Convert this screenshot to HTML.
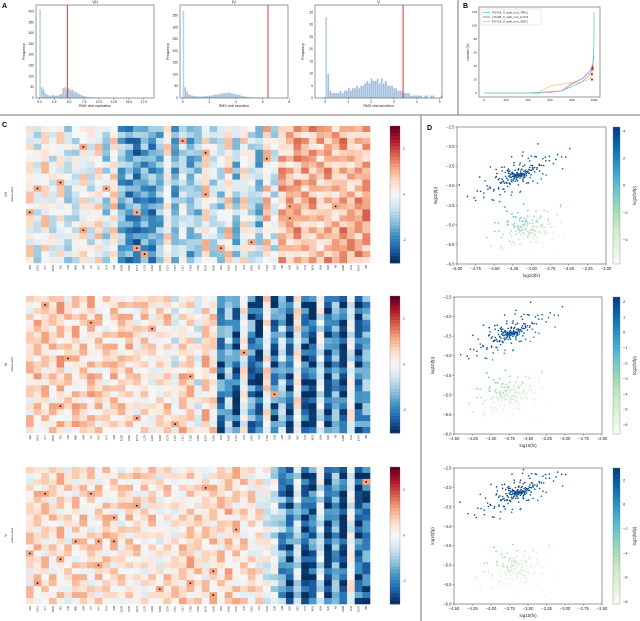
<!DOCTYPE html>
<html><head><meta charset="utf-8"><style>
body{margin:0;background:#fff;width:640px;height:621px;overflow:hidden}
svg{display:block;font-family:"Liberation Sans",sans-serif}
</style></head><body>
<svg id="fig" width="640" height="621" viewBox="0 0 640 621">
<line x1="458" y1="0" x2="458" y2="115" stroke="#777" stroke-width="1"/>
<line x1="0" y1="115" x2="640" y2="115" stroke="#777" stroke-width="1"/>
<line x1="421" y1="115" x2="421" y2="621" stroke="#777" stroke-width="1"/>
<text x="2" y="8" font-size="7" font-weight="bold">A</text>
<text x="463" y="8" font-size="7" font-weight="bold">B</text>
<text x="2" y="127" font-size="7" font-weight="bold">C</text>
<text x="427" y="130" font-size="7" font-weight="bold">D</text>
</svg>
<script>
// ---------- histogram data ----------
const hist1Counts=[410,50,40,22,15,12,10,14,12,10,12,15,20,45,50,40,45,35,40,30,28,22,18,14,10,8,6,5,4,3,3,2,2,1,1,1,1,0,1,0,0,1,0,0,0,1,0,0,0,0,0,0,0,1];
const hist2Counts=[370,45,28,15,12,10,8,8,7,6,7,8,8,9,10,10,12,14,15,16,18,20,22,20,24,22,20,18,16,14,12,10,8,7,5,4,3,3,2,2,2,1,1,1,1,1,1,0,0,1];
const hist3Counts=[33,10,3,2,2,2,2,3,2,3,3,4,3,4,4,5,4,5,5,6,7,6,8,7,7,8,6,8,6,7,5,5,5,4,4,3,3,3,2,2,2,1,1,1,1,1,1,0,1,1,0,1,1,0,0,0,1];
const histBinWidths=[0.3,0.14,0.09];
const hist1Ticks=[0,2.5,5,7.5,10,12.5,15,17.5];
const hist1TickLabels=["0.0","2.5","5.0","7.5","10.0","12.5","15.0","17.5"];
const hist2Ticks=[0,2,4,6,8];
const hist3Ticks=[0,1,2,3,4,5];
const hist1Y=[0,50,100,150,200,250,300,350,400];
const hist2Y=[0,50,100,150,200,250,300,350];
const hist3Y=[0,5,10,15,20,25,30,35];
const histThresholds=[4.7,6.4,3.4];
// ---------- panel B ----------
const bX=[0,100,200,300,400,500,530,600,700,750,800,850,900,950,970,980,990,995,1000,1000];
const bCyan=[0,0,0,0,0,1,1,2,3,6,10,13,18,25,30,33,40,60,80,120];
const bMag=[0,0,0,0,0,0,1,1,3,8,14,18,22,30,34,38,45,50,55,55];
const bYel=[0,0,0,0,0,1,4,10,13,14,15,15,17,20,22,25,30,33,36,36];
const bDots=[[980,28],[985,35],[982,20],[988,38]];
// ---------- heatmap data ----------
const hmRows=23, hmCols=45;
const texture="72915364081937462058174930625817394026158372940615837201946385710492638175049263817504926371859403627185940362718";
const hm1Mean=[0.2,-0.5,0.3,-0.3,0.1,-0.6,-0.4,0.2,-0.3,0.3,-0.8,0.4,-1.4,-1.6,-1.8,-1.5,-1.7,-1.2,0.2,-1.4,-0.5,-1.3,-1.0,0.4,-0.6,-0.8,0.5,-1.1,0.2,-0.4,-1.2,0.6,-0.5,0.9,0.8,1.0,0.9,1.0,0.8,1.0,0.9,1.1,0.9,1.0,1.1];
const hm2Mean=[0.4,0.6,0.5,0.5,0.7,0.4,0.6,0.5,0.6,0.5,0.4,0.6,0.5,0.6,0.3,0.5,0.2,0.4,0.5,-0.2,0.6,0.5,-0.3,0.6,0.4,-2.2,-1.2,-2.4,0.0,-2.0,-2.6,0.2,-2.2,-1.0,-2.5,0.1,-2.3,-2.6,-0.3,-2.4,-1.4,-2.6,-0.2,-2.3,-1.5];
const hm3Mean=[0.3,0.5,0.4,0.4,0.5,0.3,0.4,0.5,0.3,0.4,0.5,0.4,0.3,0.5,0.4,0.3,0.5,0.2,0.4,0.3,0.5,0.6,0.4,0.3,0.5,0.4,0.6,0.5,0.4,0.3,0.2,-0.2,-0.5,-1.6,-2.3,-0.8,-2.6,-2.2,-0.4,-2.6,-1.4,-2.7,-0.1,-2.4,-2.2];
const hm1Dots=[[2,20],[3,7],[4,23],[5,31],[9,4],[10,1],[10,10],[11,23],[13,34],[13,40],[14,0],[14,14],[15,34],[17,7],[19,29],[20,14],[20,25],[21,15]];
const hm2Dots=[[1,2],[4,8],[5,16],[9,28],[10,5],[13,21],[16,32],[18,4],[20,14],[21,19]];
const hm3Dots=[[2,44],[3,23],[4,2],[4,8],[6,14],[8,11],[10,27],[12,6],[12,9],[12,11],[14,0],[15,4],[16,9],[17,24],[19,1],[19,21],[20,17],[21,24]];
const colNames=["S62","V213","S77","M105","T61","Y45","M85","A94","I37","N57","D74","S38","E139","V200","R174","L178","G192","K184","S179","T197","L117","T183","V162","K176","A156","D91","A162","T147","A79","S161","V11","T104","E28","L98","N50","N67","F79","W31","K54","K20","A8","A168","R41","E147","I68"];
// ---------- scatter data ----------
const dxB=[-0.3,-0.2,-0.1,0,0.1,0.2,0.05,-0.05,0.15,-0.15,0.25,-0.25,0.3,-0.35,0.4,0.5,0.6,-0.5,-0.7,0.02,-0.08,0.12,-0.18,0.08,0.18,-0.28,0.22,0.35,0.45,-0.4,0.03,-0.12,0.07,0.14,-0.22,0.28,-0.02,0.1,0.2,-0.1,0.55,0.65,-0.6,-0.45,0.32,-0.32,0.04,-0.06,0.16,0.26];
const dyB=[-0.2,-0.15,0.05,0,0.1,0.15,-0.1,0.1,0.2,-0.05,0.1,-0.3,0.3,-0.2,0.35,0.4,0.6,-0.5,-0.4,0.15,-0.1,-0.05,0.05,0.2,-0.1,-0.1,0.3,0.15,0.45,-0.35,-0.2,0.12,0.25,0,-0.25,0.1,0.05,-0.15,0.05,0.2,0.5,0.65,-0.6,-0.15,0.4,-0.05,-0.3,0.22,-0.18,0.35];
const dxG=[-0.4,-0.3,-0.2,-0.1,0,0.1,0.2,0.3,0.4,-0.35,-0.25,-0.15,-0.05,0.05,0.15,0.25,0.35,0.45,-0.45,0.5,-0.3,-0.1,0.1,0.3,-0.2,0,0.2,-0.4,0.4,0.12,-0.12,0.22,-0.22,0.08,-0.08,0.32,-0.32,0.02,0.18,-0.18];
const dyG=[-0.4,0.1,-0.5,0.3,-0.2,0.4,-0.1,0.5,0.2,0.6,-0.3,0,0.2,-0.6,0.1,-0.3,0.3,0.5,-0.2,0.7,0.4,-0.4,0.55,-0.1,0.15,0.35,-0.45,-0.55,0.0,-0.15,0.25,0.45,-0.25,0.05,-0.35,0.15,0.3,-0.05,0.6,0.45];
const scatterCenters=[[-4.2,-3.75,-4.05,-5.1],[-3.75,-3.45,-3.75,-5.0],[-3.65,-3.15,-3.65,-5.1]];

const NS="http://www.w3.org/2000/svg";
const svg=document.getElementById('fig');
function mk(tag,attrs,parent){const e=document.createElementNS(NS,tag);for(const k in attrs)e.setAttribute(k,attrs[k]);(parent||svg).appendChild(e);return e;}
function txt(x,y,s,size,anchor,parent,rot){const e=mk('text',{x:x,y:y,'font-size':size,'text-anchor':anchor||'middle',fill:'#222'},parent);if(rot!==undefined)e.setAttribute('transform','rotate('+rot+' '+x+' '+y+')');e.textContent=s;return e;}
function lerpHex(stops,t){t=Math.max(0,Math.min(1,t));const n=stops.length-1;const i=Math.min(n-1,Math.floor(t*n));const f=t*n-i;const a=stops[i],b=stops[i+1];const c=[0,1,2].map(k=>Math.round(parseInt(a.substr(1+2*k,2),16)*(1-f)+parseInt(b.substr(1+2*k,2),16)*f));return 'rgb('+c.join(',')+')';}
const RdBu=["#053061","#2166ac","#4393c3","#92c5de","#d1e5f0","#f7f7f7","#fddbc7","#f4a582","#d6604d","#b2182b","#67001f"];
const GnBu=["#f7fcf0","#e0f3db","#ccebc5","#a8ddb5","#7bccc4","#4eb3d3","#2b8cbe","#0868ac","#084081"];

// ---------- histograms ----------
function histogram(name,title,counts,bw,box,xmin,xmax,ymax,ticks,tickLabels,yticks,thr,xlabel){
  const g=mk('g',{});  
  const [L,T,R,B]=box;
  const sx=v=>L+(v-xmin)/(xmax-xmin)*(R-L);
  const sy=v=>B-v/ymax*(B-T);
  counts.forEach((c,i)=>{const x0=i*bw;const r=mk('rect',{x:sx(x0),y:sy(c),width:Math.max(0.5,(sx(x0+bw)-sx(x0))*0.85),height:B-sy(c),fill:i==0?'#b9d2e7':'#a4c2dd'},g);});
  const ln=mk('line',{x1:sx(thr),x2:sx(thr),y1:T,y2:B,stroke:'#e5372c','stroke-width':1},g);
  mk('rect',{x:L,y:T,width:R-L,height:B-T,fill:'none',stroke:'#555','stroke-width':0.6},g);
  ticks.forEach((t,i)=>{mk('line',{x1:sx(t),x2:sx(t),y1:B,y2:B+1.5,stroke:'#333','stroke-width':0.4},g);txt(sx(t),B+5,tickLabels?tickLabels[i]:String(t),3.3,'middle',g);});
  yticks.forEach(t=>{txt(L-2,sy(t)+1,String(t),3.3,'end',g);});
  txt((L+R)/2,T-1.5,title,4.5,'middle',g);
  txt((L+R)/2,B+9,xlabel,3.5,'middle',g);
  txt(L-11,(T+B)/2,'Frequency',3.5,'middle',g,-90);
}
histogram('histogram-vii','VII',hist1Counts,histBinWidths[0],[36,5,154,98],-0.55,19.2,430,hist1Ticks,hist1TickLabels,hist1Y,histThresholds[0],'RMS viral replication');
histogram('histogram-iv','IV',hist2Counts,histBinWidths[1],[180,5,288,98],-0.2,7.9,395,hist2Ticks,null,hist2Y,histThresholds[1],'RMS viral secretion');
histogram('histogram-v','V',hist3Counts,histBinWidths[2],[315,5,442,98],-0.45,5.1,38,hist3Ticks,null,hist3Y,histThresholds[2],'RMS viral secretion');

// ---------- panel B ----------
(function(){
  const g=mk('g',{});
  const L=479,R=600,T=7,B=97;
  const sx=v=>484+v/1000*110, sy=v=>93-v/120*81;
  mk('rect',{x:L,y:T,width:R-L,height:B-T,fill:'none',stroke:'#555','stroke-width':0.6},g);
  [0,200,400,600,800,1000].forEach(t=>{txt(sx(t),B+4,String(t),3,'middle',g);});
  [0,20,40,60,80,100,120].forEach(t=>{txt(L-2,sy(t)+1,String(t),3,'end',g);});
  txt(L-10,(T+B)/2,'number (%)',3.3,'middle',g,-90);
  const series=[[bYel,'#f3d27a'],[bMag,'#d56bd8'],[bCyan,'#6fd3d3']];
  series.forEach(([ys,col])=>{const p=mk('polyline',{points:bX.map((x,i)=>sx(x)+','+sy(ys[i])).join(' '),fill:'none',stroke:col,'stroke-width':0.9},g);});
  bDots.forEach(d=>{const c=mk('circle',{cx:sx(d[0]),cy:sy(d[1]),r:1.1,fill:'#d62728'},g);});
  const lg=mk('g',{},g);
  mk('rect',{x:481,y:9,width:60,height:16,fill:'#fff',stroke:'#ccc','stroke-width':0.4},lg);
  [['PSY19_V_split_mut_TRV1','#6fd3d3'],['LSU28_V_split_mut_H-Ps1','#d56bd8'],['PSY19_V_split_mut_SEP1','#f3d27a']].forEach((e,i)=>{mk('line',{x1:483,x2:490,y1:12.5+i*4.5,y2:12.5+i*4.5,stroke:e[1],'stroke-width':1},lg);txt(492,13.7+i*4.5,e[0],3,'start',lg);});
})();

// ---------- heatmaps ----------
function heatmap(name,label,means,dots,top,vmin,vmax,cbTicks){
  const g=mk('g',{});
  const L=26,W=344,H=137;const cw=W/hmCols,ch=H/hmRows;
  for(let r=0;r<hmRows;r++)for(let c=0;c<hmCols;c++){
    const d=parseInt(texture[(r*hmCols+c*7+r*3)%texture.length]);
    const amp=Math.abs(means[c])>1.5?0.9:0.7;
    const v=means[c]+amp*(d-4.5)/4.5;
    const rc=mk('rect',{x:L+c*cw,y:top+r*ch,width:cw+0.3,height:ch+0.3,fill:lerpHex(RdBu,(v-vmin)/(vmax-vmin))},g);
    
  }
  dots.forEach(([r,c])=>{if(c>=hmCols)c=hmCols-1;mk('rect',{x:L+c*cw,y:top+r*ch,width:cw,height:ch,fill:'#f4a582'},g);const dt=mk('circle',{cx:L+(c+0.5)*cw,cy:top+(r+0.5)*ch,r:0.9,fill:'#111'},g);});
  for(let c=0;c<hmCols;c++){txt(L+(c+0.5)*cw+1,top+H+2,colNames[c],2.6,'end',g,-90);}
  for(let r=0;r<hmRows;r++){txt(L-3,top+(r+0.5)*ch+1,'·',3,'end',g);}
  txt(L-13,top+H/2,'amino acid',3,'middle',g,-90);
  txt(L-19,top+H/2,label,3.8,'middle',g,-90);
  const cb=mk('g',{},g);
  const n=40;for(let i=0;i<n;i++){mk('rect',{x:390,y:top+i*H/n,width:10,height:H/n+0.4,fill:lerpHex(RdBu,1-i/(n-1))},cb);}
  mk('rect',{x:390,y:top,width:10,height:H,fill:'none',stroke:'#666','stroke-width':0.3},cb);
  cbTicks.forEach(t=>{const y=top+H*(1-(t-vmin)/(vmax-vmin));txt(403,y+1,String(t),3.2,'start',cb);});
}
heatmap('heatmap-vii','VII',hm1Mean,hm1Dots,126,-3,3,[-2,0,2]);
heatmap('heatmap-iv','IV',hm2Mean,hm2Dots,296,-3,3,[-2,0,2]);
heatmap('heatmap-v','V',hm3Mean,hm3Dots,467,-3,3,[-2,0,2]);

// ---------- scatters ----------
function scatter(name,k,L,T,R,B,xmin,xmax,xticks,cbmin,cbmax,cbticks){
  const g=mk('g',{});
  const ymin=-6,ymax=-2.5;
  const sx=v=>L+(v-xmin)/(xmax-xmin)*(R-L), sy=v=>B-(v-ymin)/(ymax-ymin)*(B-T);
  mk('rect',{x:L,y:T,width:R-L,height:B-T,fill:'#fff',stroke:'#555','stroke-width':0.6},g);
  const [bx,by,gx,gy]=scatterCenters[k];
  const pts=[];
  const scales=[1,0.55,0.3,0.8];
  const nG=dxG.length,nB=dxB.length;
  dxG.forEach((d,i)=>scales.forEach((s,j)=>{const sg=j%2?s:-s;pts.push([gx+d*sg*1.1,gy+(dyG[i]*0.5+dyG[(i+13)%nG]*0.6)*sg*1.1]);}));
  dxB.forEach((d,i)=>scales.forEach((s,j)=>{const sg=j==3?-s:s;pts.push([bx+d*sg*1.1,by+(dyB[i]*0.8+dyB[(i+17)%nB]*0.9)*sg]);}));
  pts.forEach(([x,y])=>{if(x<xmin||x>xmax||y<ymin||y>ymax)return;const t=(y-x+1.6)/1.9;const c=mk('circle',{cx:sx(x),cy:sy(y),r:0.8,fill:lerpHex(GnBu,0.12+Math.max(0,Math.min(1,t))*0.85)},g);});
  xticks.forEach(t=>{mk('line',{x1:sx(t),x2:sx(t),y1:B,y2:B+1.5,stroke:'#333','stroke-width':0.4},g);txt(sx(t),B+6,(t<0?'\u2212':'')+Math.abs(t).toFixed(2),4.2,'middle',g);});
  [-6,-5.5,-5,-4.5,-4,-3.5,-3,-2.5].forEach(t=>{mk('line',{x1:L-1.5,x2:L,y1:sy(t),y2:sy(t),stroke:'#333','stroke-width':0.4},g);txt(L-2.5,sy(t)+1.5,'\u2212'+Math.abs(t).toFixed(1),4.2,'end',g);});
  txt((L+R)/2,B+13,'log10(fv)',4.4,'middle',g);
  txt(L-20,(T+B)/2,'log10(fp)',4.4,'middle',g,-90);
  const cb=mk('g',{},g);
  const n=40,H=B-T;for(let i=0;i<n;i++){mk('rect',{x:613,y:T+i*H/n,width:7,height:H/n+0.4,fill:lerpHex(GnBu,1-i/(n-1))},cb);}
  mk('rect',{x:613,y:T,width:7,height:H,fill:'none',stroke:'#666','stroke-width':0.3},cb);
  cbticks.forEach(t=>{const y=T+H*(1-(t-cbmin)/(cbmax-cbmin));txt(623,y+1.3,(t<0?'\u2212':'')+Math.abs(t),4,'start',cb);});
  txt(636,(T+B)/2,'log2(fv/fp)',4.2,'middle',cb,-90);
}
scatter('scatter-vii',0,457,127,606,264,-5,-3,[-5,-4.75,-4.5,-4.25,-4,-3.75,-3.5,-3.25,-3],-5.8,4.3,[-4,-2,0,2,4]);
scatter('scatter-iv',1,454,297,602,434,-4.5,-2.5,[-4.5,-4.25,-4,-3.75,-3.5,-3.25,-3,-2.75,-2.5],-6.6,2.3,[-6,-5,-4,-3,-2,-1,0,1,2]);
scatter('scatter-v',2,454,468,602,604,-4.5,-2.5,[-4.5,-4.25,-4,-3.75,-3.5,-3.25,-3,-2.75,-2.5],-8.2,3,[-8,-6,-4,-2,0,2]);
</script>
</body></html>
